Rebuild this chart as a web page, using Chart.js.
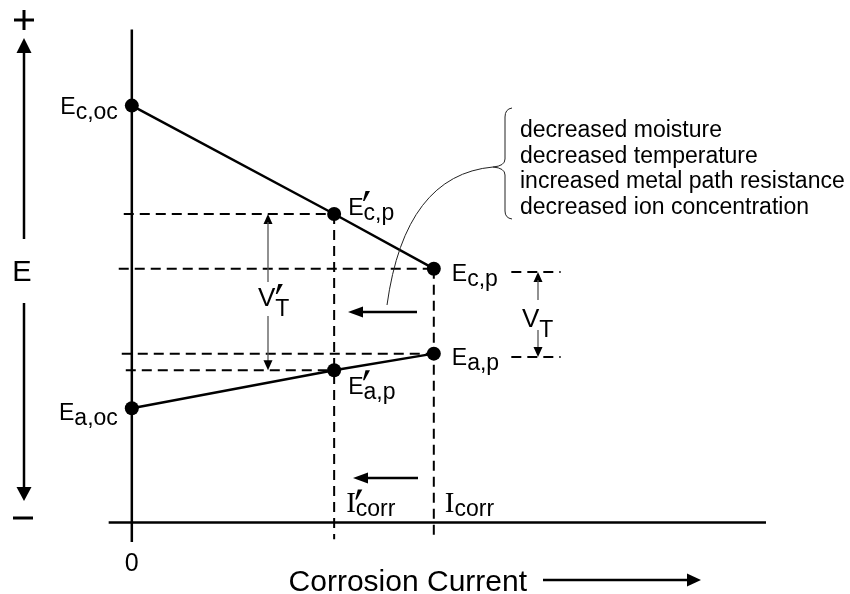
<!DOCTYPE html>
<html>
<head>
<meta charset="utf-8">
<script src="https://cdn.jsdelivr.net/npm/chart.js@4.4.1/dist/chart.umd.min.js"></script>
<style>
  html, body { margin: 0; padding: 0; background: #fff; }
  #wrap { width: 850px; height: 594px; }
</style>
</head>
<body>
<div id="wrap"><canvas id="chart" width="850" height="594"></canvas></div>
<script>
// Polarization diagram: cathodic and anodic lines meeting at Icorr,
// shifted to I'corr when the corrosion cell is stifled.

const currents = [0, 2.01, 3]              // 0, I'corr, Icorr
const cathodePotential = [8.54, 6.32, 5.2] // Ec,oc  E'c,p  Ec,p
const anodePotential = [2.34, 3.12, 3.46]  // Ea,oc  E'a,p  Ea,p
const causes = [
  'decreased moisture',
  'decreased temperature',
  'increased metal path resistance',
  'decreased ion concentration'
]

const SANS = '"Liberation Sans", Arial, Helvetica, sans-serif'
const SERIF = '"Liberation Serif", "Times New Roman", serif'

// ── Datasets ──────────────────────────────────────────────────────────────────

const pts = ys => currents.map((x, i) => ({ x, y: ys[i] }))

function seg(x0, y0, x1, y1, dashed) {
  return {
    data: [{ x: x0, y: y0 }, { x: x1, y: y1 }],
    showLine: true,
    borderColor: '#000',
    borderWidth: dashed ? 2 : 2.5,
    borderDash: dashed ? [10, 6] : [],
    pointRadius: 0,
    order: dashed ? 1 : 2,
    clip: false
  }
}

function curve(ys) {
  return {
    data: pts(ys),
    showLine: true,
    borderColor: '#000',
    borderWidth: 2.5,
    pointRadius: 7,
    pointBackgroundColor: '#000',
    pointBorderWidth: 0,
    order: 0,
    clip: false
  }
}

const [, iPrime, iCorr] = currents
const datasets = [
  curve(cathodePotential),
  curve(anodePotential),
  // axes
  seg(0, -0.4, 0, 10.1, false),
  seg(-0.23, 0, 6.3, 0, false),
  // projections of the operating points
  seg(-0.08, cathodePotential[1], iPrime, cathodePotential[1], true),
  seg(-0.13, cathodePotential[2], iCorr, cathodePotential[2], true),
  seg(-0.10, anodePotential[2], iCorr, anodePotential[2], true),
  seg(-0.06, anodePotential[1], iPrime, anodePotential[1], true),
  seg(3.77, cathodePotential[2] - 0.07, 4.26, cathodePotential[2] - 0.07, true),
  seg(3.77, anodePotential[2] - 0.07, 4.26, anodePotential[2] - 0.07, true),
  seg(iPrime, cathodePotential[1], iPrime, -0.34, true),
  seg(iCorr, cathodePotential[2], iCorr, -0.34, true)
]

// ── Drawing helpers ───────────────────────────────────────────────────────────

function head(ctx, tx, ty, dx, dy, len, half) {
  const bx = tx - dx * len, by = ty - dy * len
  ctx.beginPath()
  ctx.moveTo(tx, ty)
  ctx.lineTo(bx - dy * half, by + dx * half)
  ctx.lineTo(bx + dy * half, by - dx * half)
  ctx.closePath()
  ctx.fill()
}

function line(ctx, x0, y0, x1, y1, w) {
  ctx.lineWidth = w
  ctx.beginPath()
  ctx.moveTo(x0, y0)
  ctx.lineTo(x1, y1)
  ctx.stroke()
}

function prime(ctx, x, base) {
  ctx.beginPath()
  ctx.moveTo(x + 2, base - 24)
  ctx.lineTo(x + 6.5, base - 24)
  ctx.lineTo(x + 1, base - 14)
  ctx.lineTo(x - 0.5, base - 14)
  ctx.closePath()
  ctx.fill()
}

function eLabel(ctx, x, base, sub, primed, right) {
  ctx.font = `23px ${SANS}`
  ctx.textAlign = 'left'
  const wE = ctx.measureText('E').width
  const wS = ctx.measureText(sub).width
  const left = right ? x - wE - wS : x
  ctx.fillText('E', left, base)
  ctx.fillText(sub, left + wE, base + 5)
  if (primed) prime(ctx, left + wE, base)
}

function vLabel(ctx, x, base, primed) {
  ctx.font = `26px ${SANS}`
  ctx.textAlign = 'left'
  const wV = ctx.measureText('V').width
  ctx.fillText('V', x, base)
  ctx.font = `23px ${SANS}`
  ctx.fillText('T', x + wV, base + 10)
  if (primed) prime(ctx, x + wV + 1, base + 2)
}

function iLabel(ctx, x, base, primed) {
  ctx.font = `29px ${SERIF}`
  ctx.textAlign = 'left'
  const wI = ctx.measureText('I').width
  ctx.fillText('I', x, base)
  ctx.font = `23px ${SANS}`
  ctx.fillText('corr', x + wI, base + 4)
  if (primed) prime(ctx, x + wI, base + 2)
}

const diagram = {
  id: 'diagram',
  afterDatasetsDraw(chart) {
    const { ctx, scales } = chart
    const px = v => scales.x.getPixelForValue(v)
    const py = v => scales.y.getPixelForValue(v)
    ctx.save()
    ctx.fillStyle = '#000'
    ctx.strokeStyle = '#000'
    ctx.textBaseline = 'alphabetic'

    // potential axis with +/- ends
    line(ctx, 14, 20, 34, 20, 3)
    line(ctx, 24, 10, 24, 30, 3)
    head(ctx, 24, 38, 0, -1, 15, 7.5)
    line(ctx, 24, 50, 24, 239, 2.5)
    ctx.font = `29px ${SANS}`
    ctx.textAlign = 'center'
    ctx.fillText('E', 22, 281)
    line(ctx, 24, 303, 24, 490, 2.5)
    head(ctx, 24, 501, 0, 1, 14, 7.5)
    line(ctx, 13, 518, 33, 518, 3)

    // point labels
    const x0 = px(0), x1 = px(iPrime), x2 = px(iCorr)
    eLabel(ctx, x0 - 14, py(cathodePotential[0]) + 8, 'c,oc', false, true)
    eLabel(ctx, x1 + 14, py(cathodePotential[1]) + 1, 'c,p', true)
    eLabel(ctx, x2 + 18, py(cathodePotential[2]) + 12, 'c,p', false)
    eLabel(ctx, x2 + 18, py(anodePotential[2]) + 11, 'a,p', false)
    eLabel(ctx, x1 + 14, py(anodePotential[1]) + 24, 'a,p', true)
    eLabel(ctx, x0 - 14, py(anodePotential[0]) + 12, 'a,oc', false, true)

    // voltage drops V'T and VT
    ctx.fillStyle = '#000'
    ctx.strokeStyle = '#555'
    const yc1 = py(cathodePotential[1]), ya1 = py(anodePotential[1])
    head(ctx, 268, yc1, 0, -1, 10, 4.5)
    line(ctx, 268, yc1 + 8, 268, 282, 1.3)
    line(ctx, 268, 316, 268, ya1 - 8, 1.3)
    head(ctx, 268, ya1, 0, 1, 10, 4.5)
    vLabel(ctx, 258, 306, true)

    const yc2 = py(cathodePotential[2] - 0.07), ya2 = py(anodePotential[2] - 0.07)
    head(ctx, 538, yc2, 0, -1, 10, 4.5)
    line(ctx, 538, yc2 + 8, 538, 300, 1.3)
    line(ctx, 538, 330, 538, ya2 - 8, 1.3)
    head(ctx, 538, ya2, 0, 1, 10, 4.5)
    vLabel(ctx, 522, 327, false)

    // shift arrows
    ctx.strokeStyle = '#000'
    head(ctx, 348, 312, -1, 0, 15, 5.5)
    line(ctx, 360, 312, 417, 312, 2.5)
    head(ctx, 353, 478, -1, 0, 15, 5.5)
    line(ctx, 365, 478, 418, 478, 2.5)

    // current labels
    const yAxis = py(0)
    iLabel(ctx, x1 + 12, yAxis - 11, true)
    iLabel(ctx, x2 + 11, yAxis - 11, false)
    ctx.font = `25px ${SANS}`
    ctx.textAlign = 'center'
    ctx.fillText('0', x0, yAxis + 48)

    ctx.font = `30px ${SANS}`
    ctx.textAlign = 'right'
    ctx.fillText('Corrosion Current', 527, 591)
    line(ctx, 543, 580, 690, 580, 2.5)
    head(ctx, 701, 580, 1, 0, 14, 6.5)

    // list of causes with brace and leader curve
    ctx.font = `23px ${SANS}`
    ctx.textAlign = 'left'
    causes.forEach((t, i) => ctx.fillText(t, 520, 137 + i * 25.5))

    ctx.strokeStyle = '#222'
    ctx.lineWidth = 1
    ctx.beginPath()
    ctx.moveTo(512, 108)
    ctx.quadraticCurveTo(505, 109, 505, 117)
    ctx.lineTo(505, 159)
    ctx.quadraticCurveTo(505, 166, 493, 167)
    ctx.quadraticCurveTo(505, 168, 505, 175)
    ctx.lineTo(505, 211)
    ctx.quadraticCurveTo(505, 218, 512, 219)
    ctx.stroke()

    ctx.beginPath()
    ctx.moveTo(493, 167)
    ctx.quadraticCurveTo(405, 175, 387, 305)
    ctx.stroke()

    ctx.restore()
  }
}

new Chart(document.getElementById('chart'), {
  type: 'scatter',
  data: { datasets },
  options: {
    responsive: false,
    animation: false,
    layout: { padding: 0 },
    plugins: { legend: { display: false }, tooltip: { enabled: false } },
    scales: {
      x: { type: 'linear', min: -1.24, max: 7.065, display: false },
      y: { type: 'linear', min: -1.32, max: 10.56, display: false }
    }
  },
  plugins: [diagram]
})
</script>
</body>
</html>
